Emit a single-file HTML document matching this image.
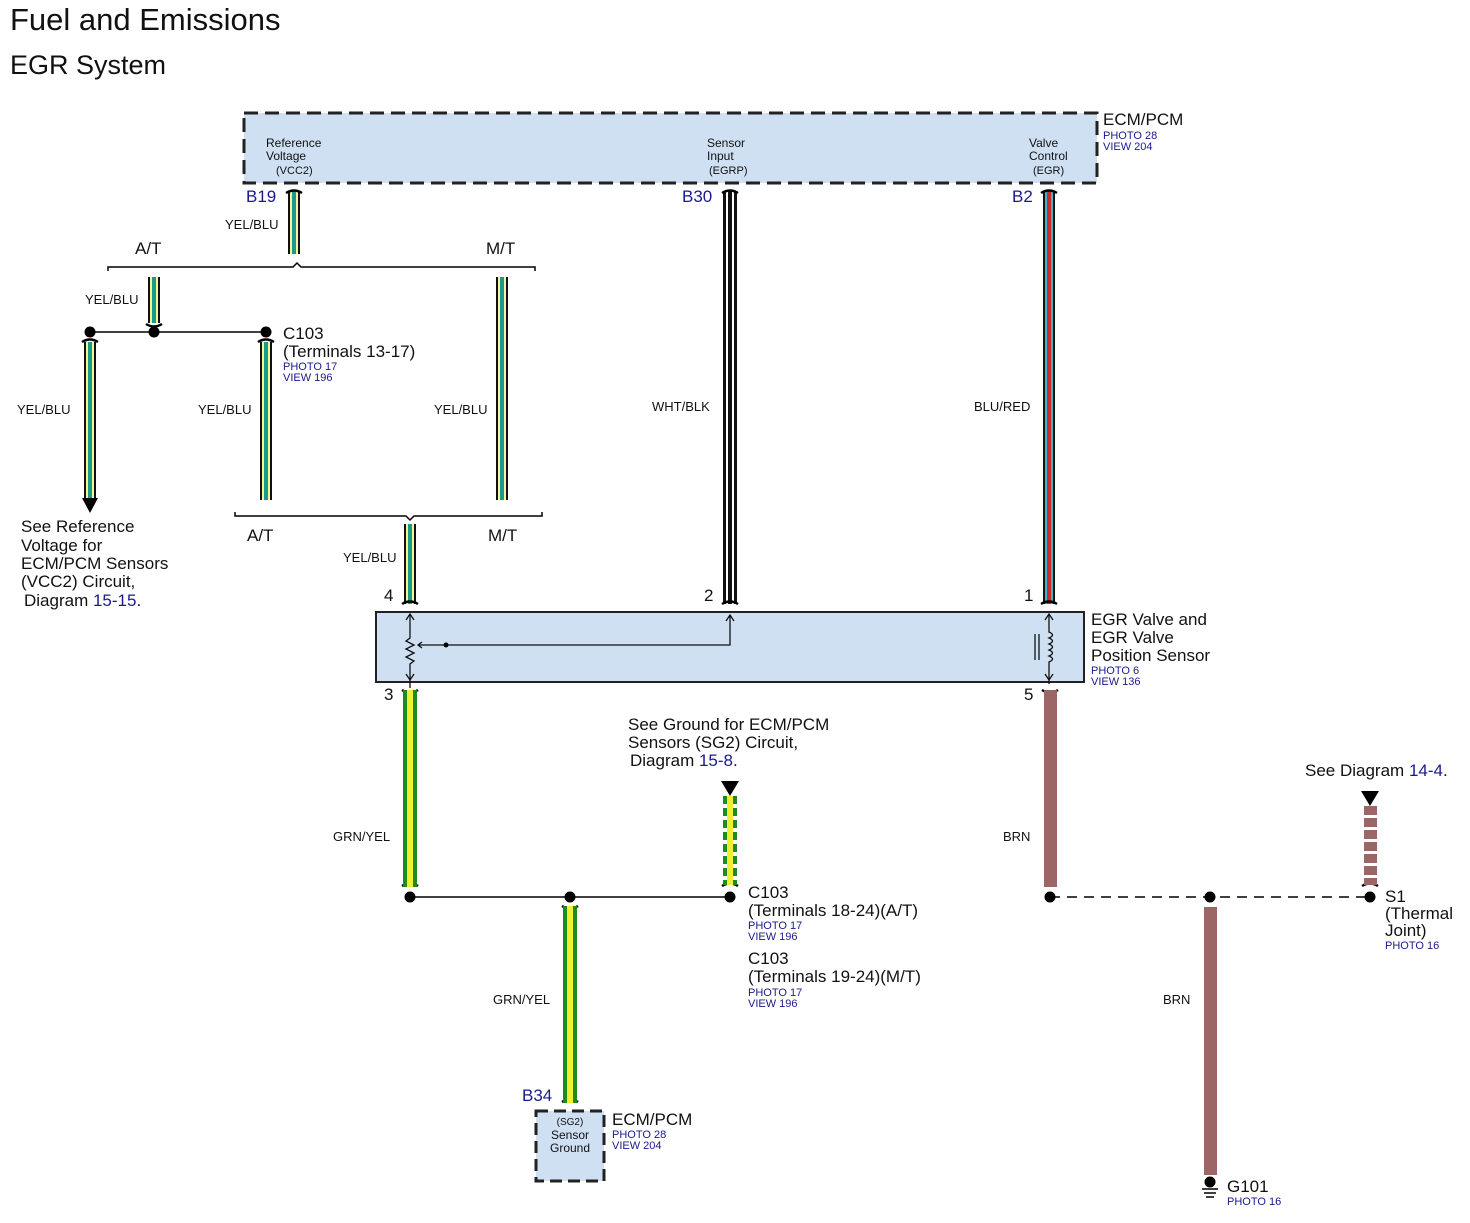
<!DOCTYPE html>
<html><head><meta charset="utf-8"><style>
html,body{margin:0;padding:0;background:#fff}
svg{display:block}
text{font-family:"Liberation Sans",Arial,sans-serif;fill:#111}
.s{font-size:13px}
.m{font-size:17px}
.b{fill:#1a1a8c}
.t{font-size:11px;fill:#1a1a8c}
.l{font-size:12px}
</style></head><body>
<svg width="1470" height="1223" viewBox="0 0 1470 1223" xmlns="http://www.w3.org/2000/svg">
<text x="10" y="30" style="font-size:31px">Fuel and Emissions</text>
<text x="10" y="74" style="font-size:27px">EGR System</text>

<rect x="244" y="113" width="853" height="70" fill="#cfe0f3" stroke="#222" stroke-width="3" stroke-dasharray="14,7"/>
<text class="l" x="266" y="147">Reference</text><text class="l" x="266" y="160">Voltage</text><text x="276" y="174" style="font-size:11px">(VCC2)</text>
<text class="l" x="707" y="147">Sensor</text><text class="l" x="707" y="160">Input</text><text x="709" y="174" style="font-size:11px">(EGRP)</text>
<text class="l" x="1029" y="147">Valve</text><text class="l" x="1029" y="160">Control</text><text x="1033" y="174" style="font-size:11px">(EGR)</text>
<text class="m" x="1103" y="125">ECM/PCM</text>
<text class="t" x="1103" y="139">PHOTO 28</text><text class="t" x="1103" y="150">VIEW 204</text>

<text class="m b" x="246" y="202">B19</text>
<text class="m b" x="682" y="202">B30</text>
<text class="m b" x="1012" y="202">B2</text>

<g>
<rect x="288" y="191" width="12" height="63" fill="#111"/><rect x="290" y="191" width="8" height="63" fill="#f4f7a0"/><rect x="292" y="191" width="4" height="63" fill="#1e9a8a"/>
<rect x="148" y="277" width="12" height="46" fill="#111"/><rect x="150" y="277" width="8" height="46" fill="#f4f7a0"/><rect x="152" y="277" width="4" height="46" fill="#1e9a8a"/>
<rect x="84" y="342" width="12" height="158" fill="#111"/><rect x="86" y="342" width="8" height="158" fill="#f4f7a0"/><rect x="88" y="342" width="4" height="158" fill="#1e9a8a"/>
<rect x="260" y="342" width="12" height="158" fill="#111"/><rect x="262" y="342" width="8" height="158" fill="#f4f7a0"/><rect x="264" y="342" width="4" height="158" fill="#1e9a8a"/>
<rect x="496" y="277" width="12" height="223" fill="#111"/><rect x="498" y="277" width="8" height="223" fill="#f4f7a0"/><rect x="500" y="277" width="4" height="223" fill="#1e9a8a"/>
<rect x="404" y="524" width="12" height="80" fill="#111"/><rect x="406" y="524" width="8" height="80" fill="#f4f7a0"/><rect x="408" y="524" width="4" height="80" fill="#1e9a8a"/>
</g>
<polygon points="82,498 98,498 90,513" fill="#000"/>

<rect x="723" y="191" width="14" height="413" fill="#111"/><rect x="726" y="191" width="2" height="413" fill="#fff"/><rect x="732" y="191" width="2" height="413" fill="#fff"/>
<rect x="1043" y="191" width="12" height="413" fill="#111"/><rect x="1045" y="191" width="8" height="413" fill="#3ab6d0"/><rect x="1047" y="191" width="4" height="413" fill="#d02828"/>

<g fill="none" stroke="#000" stroke-width="2.5">
<path d="M286,193 q8,-5 16,0"/><path d="M722,193 q8,-5 16,0"/><path d="M1041,193 q8,-5 16,0"/>
<path d="M402,604 q8,-5 16,0"/><path d="M722,604 q8,-5 16,0"/><path d="M1041,604 q8,-5 16,0"/>
<path d="M402,690 q8,5 16,0"/><path d="M1042,690 q8,5 16,0"/>
<path d="M146,324 q8,5 16,0"/><path d="M82,342 q8,-5 16,0"/><path d="M258,342 q8,-5 16,0"/>
<path d="M562,1102 q8,-5 16,0"/><path d="M722,886 q8,-5 16,0"/><path d="M1362,886 q8,-5 16,0"/><path d="M402,886 q8,-5 16,0"/><path d="M562,906 q8,5 16,0"/>
</g>

<text class="s" x="225" y="229">YEL/BLU</text>
<text class="s" x="85" y="304">YEL/BLU</text>
<text class="s" x="17" y="414">YEL/BLU</text>
<text class="s" x="198" y="414">YEL/BLU</text>
<text class="s" x="434" y="414">YEL/BLU</text>
<text class="s" x="343" y="562">YEL/BLU</text>
<text class="s" x="652" y="411">WHT/BLK</text>
<text class="s" x="974" y="411">BLU/RED</text>

<path d="M108,271 v-4 h185 l4,-4 l4,4 h234 v4" fill="none" stroke="#000" stroke-width="1.5"/>
<text class="m" x="135" y="254">A/T</text><text class="m" x="486" y="254">M/T</text>
<path d="M235,512 v4 h171 l4,4 l4,-4 h128 v-4" fill="none" stroke="#000" stroke-width="1.5"/>
<text class="m" x="247" y="541">A/T</text><text class="m" x="488" y="541">M/T</text>

<line x1="90" y1="332" x2="266" y2="332" stroke="#000" stroke-width="1.5"/>
<circle cx="90" cy="332" r="5.5"/><circle cx="154" cy="332" r="5.5"/><circle cx="266" cy="332" r="5.5"/>
<text class="m" x="283" y="339">C103</text>
<text class="m" x="283" y="357">(Terminals 13-17)</text>
<text class="t" x="283" y="370">PHOTO 17</text><text class="t" x="283" y="381">VIEW 196</text>

<text class="m" x="21" y="532">See Reference</text>
<text class="m" x="21" y="551">Voltage for</text>
<text class="m" x="21" y="569">ECM/PCM Sensors</text>
<text class="m" x="21" y="587">(VCC2) Circuit,</text>
<text class="m" x="24" y="606">Diagram <tspan class="b">15-15</tspan>.</text>

<rect x="376" y="612" width="708" height="70" fill="#cfe0f3" stroke="#222" stroke-width="2"/>
<text class="m" x="384" y="601">4</text><text class="m" x="704" y="601">2</text><text class="m" x="1024" y="601">1</text>
<text class="m" x="384" y="700">3</text><text class="m" x="1024" y="700">5</text>
<g fill="none" stroke="#111" stroke-width="1.3">
<path d="M410,614 v24 l-4,3 l8,4 l-8,4 l8,4 l-8,4 l8,4 l-4,3 v24"/>
<path d="M406,620 l4,-6 l4,6 M406,674 l4,6 l4,-6"/>
<path d="M446,645 h284 v-30 M726,621 l4,-6 l4,6"/>
<path d="M418,645 h28 M422,642 l-4,3 l4,3"/>
<path d="M1049,614 v18 q7,3 0,6 q7,3 0,6 q7,3 0,6 q7,3 0,6 q7,3 0,6 v22"/>
<path d="M1045,620 l4,-6 l4,6 M1045,674 l4,6 l4,-6"/>
<path d="M1035,634 v26 M1039,634 v26"/>
</g>
<circle cx="446" cy="645" r="2.5"/>
<text class="m" x="1091" y="625">EGR Valve and</text>
<text class="m" x="1091" y="643">EGR Valve</text>
<text class="m" x="1091" y="661">Position Sensor</text>
<text class="t" x="1091" y="674">PHOTO 6</text><text class="t" x="1091" y="685">VIEW 136</text>

<rect x="403" y="690" width="14" height="197" fill="#1f8a1f"/><rect x="407" y="690" width="6" height="197" fill="#f0f030"/>
<rect x="563" y="906" width="14" height="197" fill="#1f8a1f"/><rect x="567" y="906" width="6" height="197" fill="#f0f030"/>
<text class="s" x="333" y="841">GRN/YEL</text>
<text class="s" x="493" y="1004">GRN/YEL</text>

<g fill="#1f8a1f"><rect x="723" y="796" width="14" height="8"/><rect x="723" y="808" width="14" height="8"/><rect x="723" y="820" width="14" height="8"/><rect x="723" y="832" width="14" height="8"/><rect x="723" y="844" width="14" height="8"/><rect x="723" y="856" width="14" height="8"/><rect x="723" y="868" width="14" height="8"/><rect x="723" y="880" width="14" height="5"/></g>
<rect x="727" y="796" width="6" height="89" fill="#f0f030"/>
<polygon points="721,781 739,781 730,796" fill="#000"/>
<text class="m" x="628" y="730">See Ground for ECM/PCM</text>
<text class="m" x="628" y="748">Sensors (SG2) Circuit,</text>
<text class="m" x="630" y="766">Diagram <tspan class="b">15-8</tspan>.</text>

<line x1="410" y1="897" x2="730" y2="897" stroke="#000" stroke-width="1.5"/>
<circle cx="410" cy="897" r="5.5"/><circle cx="570" cy="897" r="5.5"/><circle cx="730" cy="897" r="5.5"/>
<text class="m" x="748" y="898">C103</text>
<text class="m" x="748" y="916">(Terminals 18-24)(A/T)</text>
<text class="t" x="748" y="929">PHOTO 17</text><text class="t" x="748" y="940">VIEW 196</text>
<text class="m" x="748" y="964">C103</text>
<text class="m" x="748" y="982">(Terminals 19-24)(M/T)</text>
<text class="t" x="748" y="996">PHOTO 17</text><text class="t" x="748" y="1007">VIEW 196</text>

<text class="m b" x="522" y="1101">B34</text>
<rect x="536" y="1111" width="68" height="70" fill="#cfe0f3" stroke="#222" stroke-width="3" stroke-dasharray="12,6"/>
<text x="570" y="1125" text-anchor="middle" style="font-size:10px">(SG2)</text>
<text class="l" x="570" y="1139" text-anchor="middle">Sensor</text>
<text class="l" x="570" y="1152" text-anchor="middle">Ground</text>
<text class="m" x="612" y="1125">ECM/PCM</text>
<text class="t" x="612" y="1138">PHOTO 28</text><text class="t" x="612" y="1149">VIEW 204</text>

<rect x="1044" y="690" width="13" height="197" fill="#9c6666"/>
<rect x="1204" y="907" width="13" height="268" fill="#9c6666"/>
<text class="s" x="1003" y="841">BRN</text>
<text class="s" x="1163" y="1004">BRN</text>
<line x1="1050" y1="897" x2="1370" y2="897" stroke="#000" stroke-width="1.5" stroke-dasharray="10,7"/>
<circle cx="1050" cy="897" r="5.5"/><circle cx="1210" cy="897" r="5.5"/><circle cx="1370" cy="897" r="5.5"/>
<g fill="#9c6666"><rect x="1364" y="806" width="13" height="9"/><rect x="1364" y="818" width="13" height="9"/><rect x="1364" y="830" width="13" height="9"/><rect x="1364" y="842" width="13" height="9"/><rect x="1364" y="854" width="13" height="9"/><rect x="1364" y="866" width="13" height="9"/><rect x="1364" y="878" width="13" height="7"/></g>
<polygon points="1361,791 1379,791 1370,806" fill="#000"/>
<text class="m" x="1305" y="776">See Diagram <tspan class="b">14-4</tspan>.</text>
<text class="m" x="1385" y="902">S1</text>
<text class="m" x="1385" y="919">(Thermal</text>
<text class="m" x="1385" y="936">Joint)</text>
<text class="t" x="1385" y="949">PHOTO 16</text>

<circle cx="1210" cy="1182" r="5.5"/>
<g stroke="#000" stroke-width="1.5"><line x1="1202" y1="1189" x2="1218" y2="1189"/><line x1="1204" y1="1193" x2="1216" y2="1193"/><line x1="1206" y1="1197" x2="1214" y2="1197"/></g>
<text class="m" x="1227" y="1192">G101</text>
<text class="t" x="1227" y="1205">PHOTO 16</text>
</svg>
</body></html>
